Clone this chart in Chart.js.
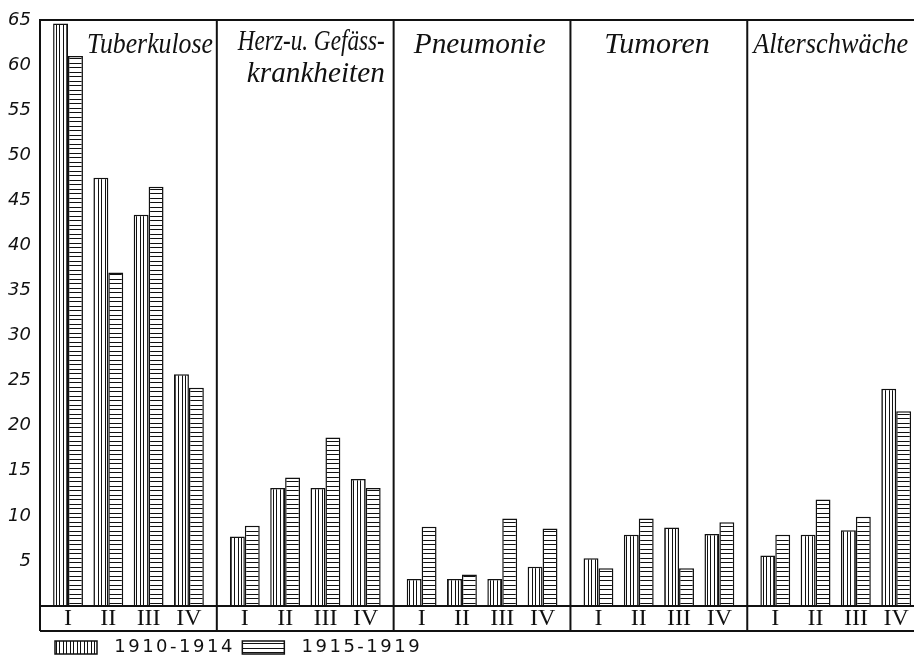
<!DOCTYPE html>
<html><head><meta charset="utf-8">
<script src="https://cdn.jsdelivr.net/npm/chart.js@4.4.1/dist/chart.umd.min.js"></script>
<style>html,body{margin:0;padding:0;background:#fff}canvas{display:block}</style>
</head><body>
<canvas id="c" width="914" height="657"></canvas>
<script>
// ---- data ----
const diseases = [['Tuberkulose'], ['Herz-u. Gefäss-', 'krankheiten'], ['Pneumonie'], ['Tumoren'], ['Alterschwäche']];
const periods = ['I', 'II', 'III', 'IV'];
const seriesLabels = ['1910-1914', '1915-1919'];
const values1910 = [64.6, 47.5, 43.4, 25.7,  7.7, 13.1, 13.1, 14.1,  3.0, 3.0, 3.0, 4.35,  5.3, 7.9, 8.7, 8.0,  5.6, 7.9, 8.4, 24.1];
const values1915 = [61.0, 37.0, 46.5, 24.2,  8.9, 14.25, 18.7, 13.1,  8.8, 3.5, 9.7, 8.6,  4.2, 9.7, 4.2, 9.3,  7.9, 11.8, 9.9, 21.6];
const yTicks = [5, 10, 15, 20, 25, 30, 35, 40, 45, 50, 55, 60, 65];

// ---- layout (in slot units of the x scale) ----
const GROUP_SPAN = 4.387, EDGE = 0.695, X_MAX = 20.99;
const xOf = i => Math.floor(i / periods.length) * GROUP_SPAN + (i % periods.length);

const titleStyle = [
  {align: 'center', at: 0.622, w: [126], base: [33]},
  {align: 'right',  at: 0.95,  w: [147, 138], base: [30, 62]},
  {align: 'center', at: 0.487, w: [132], base: [33]},
  {align: 'center', at: 0.49,  w: [107], base: [33]},
  {align: 'center', at: 0.472, w: [155], base: [33]}
];

const ctx = document.getElementById('c').getContext('2d');
function hatch(vertical) {
  const c = document.createElement('canvas');
  const g = c.getContext('2d');
  if (vertical) {
    c.width = 7; c.height = 1;
    g.fillStyle = '#fff'; g.fillRect(0, 0, 7, 1);
    g.fillStyle = '#111'; g.fillRect(0, 0, 1, 1); g.fillRect(3, 0, 1, 1);
  } else {
    c.width = 1; c.height = 9;
    g.fillStyle = '#fff'; g.fillRect(0, 0, 1, 9);
    g.fillStyle = '#111'; g.fillRect(0, 0, 1, 1); g.fillRect(0, 4, 1, 1);
  }
  return ctx.createPattern(c, 'repeat');
}

const framePlugin = {
  id: 'frame',
  afterLayout(chart) {
    const lg = chart.legend;
    if (lg) {
      lg.left = 47.5;
      if (!lg._lsPatched) {
        const orig = lg.draw;
        lg.draw = function (...args) {
          const c = this.ctx; c.save(); c.letterSpacing = '2.5px';
          orig.apply(this, args); c.restore();
        };
        lg._lsPatched = true;
      }
    }
  },
  afterDatasetsDraw(chart) {
    const {ctx: c, chartArea: a, scales: {x}} = chart;
    const bottom = x.bottom;
    c.save();
    c.strokeStyle = '#111'; c.lineWidth = 2;
    c.beginPath();
    c.moveTo(a.left, bottom); c.lineTo(a.left, a.top); c.lineTo(a.right, a.top);
    c.moveTo(a.left, a.bottom); c.lineTo(a.right, a.bottom);
    c.moveTo(a.left, bottom); c.lineTo(a.right, bottom);
    for (let g = 1; g < diseases.length; g++) {
      const px = x.getPixelForValue(g * GROUP_SPAN - EDGE);
      c.moveTo(px, a.top); c.lineTo(px, bottom);
    }
    c.stroke();
    c.restore();
  },
  afterDraw(chart) {
    const {ctx: c, chartArea: a, scales: {x}} = chart;
    const gw = x.getPixelForValue(GROUP_SPAN) - x.getPixelForValue(0);
    c.save();
    c.fillStyle = '#111';
    c.font = 'italic 30px "Liberation Serif"';
    c.textBaseline = 'alphabetic';
    diseases.forEach((lines, g) => {
      const st = titleStyle[g];
      const start = x.getPixelForValue(g * GROUP_SPAN - EDGE);
      c.textAlign = st.align;
      lines.forEach((t, k) => {
        c.fillText(t, start + st.at * gw, a.top + st.base[k], st.w[k]);
      });
    });
    c.restore();
  }
};

new Chart(ctx, {
  type: 'bar',
  data: {
    datasets: [
      {label: seriesLabels[0], data: values1910.map((v, i) => ({x: xOf(i), y: v})),
       backgroundColor: hatch(true), borderColor: '#111', borderWidth: 1.5, borderSkipped: 'bottom'},
      {label: seriesLabels[1], data: values1915.map((v, i) => ({x: xOf(i), y: v})),
       backgroundColor: hatch(false), borderColor: '#111', borderWidth: 1.5, borderSkipped: 'bottom'}
    ]
  },
  options: {
    responsive: false, animation: false, devicePixelRatio: 1,
    categoryPercentage: 0.74, barPercentage: 1.0,
    layout: {padding: {top: 20, right: 0, bottom: -9.5, left: 0}},
    plugins: {
      tooltip: {enabled: false},
      legend: {
        position: 'bottom', align: 'start',
        labels: {
          boxWidth: 42, boxHeight: 13, padding: 7.5, color: '#111',
          font: {family: 'DejaVu Sans', size: 18},
          generateLabels: chart => Chart.defaults.plugins.legend.labels.generateLabels(chart)
            .map(l => Object.assign(l, {text: ' ' + l.text}))
        }
      }
    },
    scales: {
      x: {
        type: 'linear', min: -EDGE, max: X_MAX, offset: false,
        grid: {display: false, drawTicks: false}, border: {display: false},
        afterBuildTicks: s => { s.ticks = values1910.map((_, i) => ({value: xOf(i)})); },
        afterFit: s => { s.height = 25; },
        ticks: {
          autoSkip: false, maxRotation: 0, minRotation: 0, padding: 1, color: '#111',
          font: {family: 'Liberation Serif', size: 24, lineHeight: 1},
          callback: (v, i) => periods[i % periods.length]
        }
      },
      y: {
        min: 0, max: 65,
        grid: {display: false, drawTicks: false}, border: {display: false},
        afterBuildTicks: s => { s.ticks = yTicks.map(v => ({value: v})); },
        afterFit: s => { s.width = 40; },
        ticks: {padding: 9, color: '#111', font: {family: 'DejaVu Sans', style: 'italic', size: 18}}
      }
    }
  },
  plugins: [framePlugin]
});
</script>
</body></html>
